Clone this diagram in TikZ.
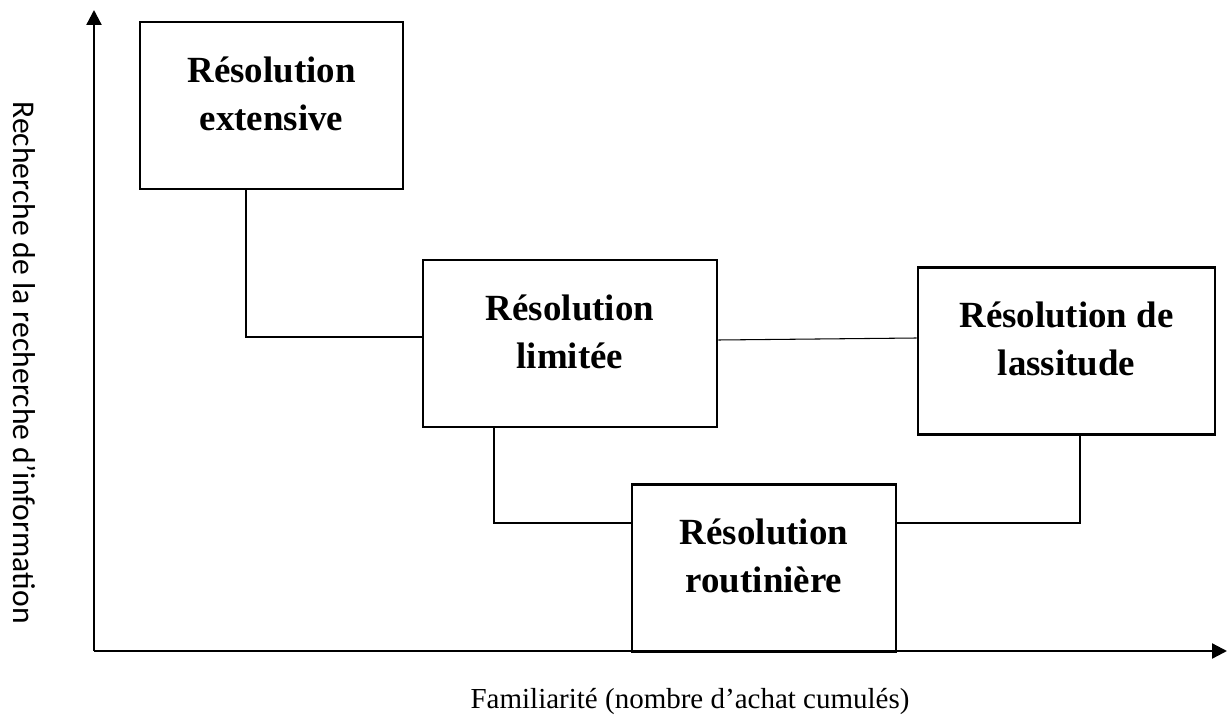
\documentclass[tikz,border=0pt]{standalone}
\usepackage{fontspec}
\setmainfont{Liberation Serif}
\newfontfamily\carlito{Carlito}
\usetikzlibrary{positioning,arrows.meta}

\begin{document}
\begin{tikzpicture}[
        stage/.style={draw, line width=1.5pt, align=center, inner sep=0pt,
          minimum height=3.34cm, text depth=0.48cm,
          font=\bfseries\fontsize{21}{27.3}\selectfont},
        axis/.style={line width=1.3pt, -{Triangle[length=0.3cm,width=0.3cm]}},
        link/.style={line width=0.6pt}]
        \useasboundingbox (0,0) rectangle (24.56,14.28);

        % axes
        \draw (1.88, 1.26) coordinate (o);

        \draw (1.88, 14.08) coordinate (ytip);

        \draw (24.54, 1.26) coordinate (xtip);

        \draw[axis] (o) -- (ytip);

        \draw[axis] (o) -- (xtip);

        \draw (0.27, 7.03) node[rotate=-90, anchor=base,
        font=\carlito\fontsize{18}{22}\selectfont] (ylab)
        {Recherche de la recherche d’information};

        \draw (13.8, 0.12) node[anchor=base, font=\fontsize{16.5}{20}\selectfont]
        (xlab) {Familiarité (nombre d’achat cumulés)};

        % stages
        \draw (5.43, 12.17) node[stage, minimum width=5.26cm] (ext)
        {Résolution\\extensive};

        \draw (11.4, 7.41) node[stage, minimum width=5.88cm] (lim)
        {Résolution\\limitée};

        \draw (21.33, 7.26) node[stage, minimum width=5.94cm] (las)
        {Résolution de\\lassitude};

        \draw (15.28, 2.92) node[stage, minimum width=5.28cm] (rout)
        {Résolution\\routinière};

        % links
        \draw[link] ([xshift=-0.51cm]ext.south) |- ([yshift=0.13cm]lim.west);

        \draw[link] ([yshift=0.07cm]lim.east) -- ([yshift=0.26cm]las.west);

        \draw[link] ([xshift=-1.52cm]lim.south) |- ([yshift=0.9cm]rout.west);

        \draw[link] ([yshift=0.9cm]rout.east) -| ([xshift=0.27cm]las.south);
\end{tikzpicture}
\end{document}
